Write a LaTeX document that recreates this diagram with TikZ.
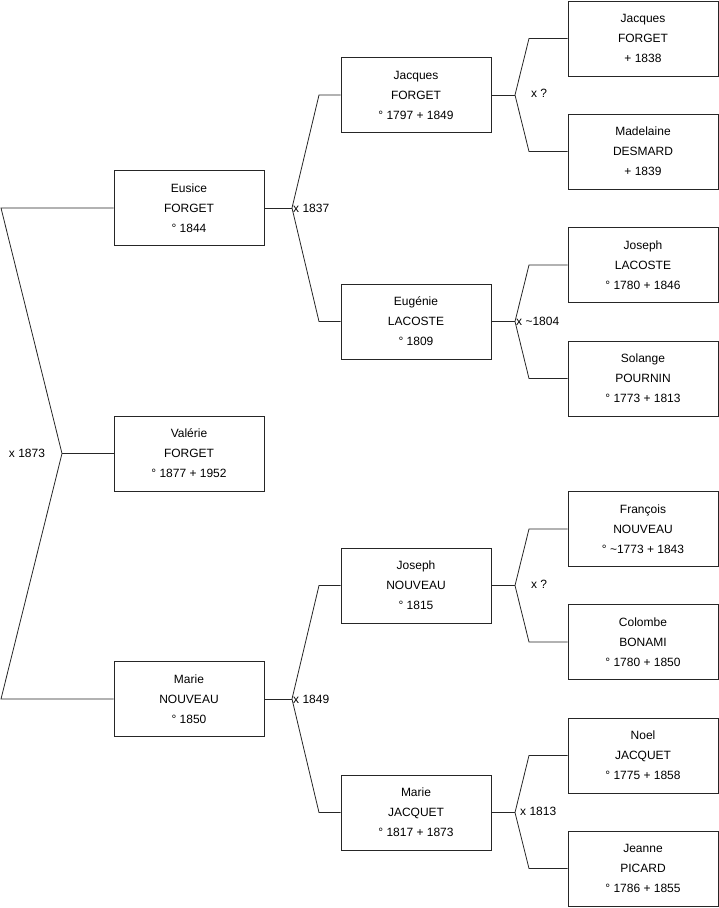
\documentclass[tikz,border=0pt]{standalone}
\usepackage{fontspec}
\setmainfont{Liberation Sans}
\usetikzlibrary{positioning}
\tikzset{
  person/.style={draw=black!85, line width=0.8pt, minimum width=150pt, minimum height=75pt,
    inner sep=0pt, align=center, font=\fontsize{12}{20}\selectfont},
  union/.style={inner sep=1pt, font=\fontsize{12}{14}\selectfont},
  link/.style={draw=black!85, line width=0.8pt}
}
\begin{document}
\begin{tikzpicture}[x=1pt,y=-1pt]
    \useasboundingbox (0,0) rectangle (719,908);
    % persons
    \node[person] (valerie)   at (189,453.5) {Valérie\\FORGET\\° 1877 + 1952};
    \node[person] (eusice)    at (189,208)   {Eusice\\FORGET\\° 1844};
    \node[person] (marieN)    at (189,699)   {Marie\\NOUVEAU\\° 1850};
    \node[person] (jacquesF)  at (416,95)    {Jacques\\FORGET\\° 1797 + 1849};
    \node[person] (eugenie)   at (416,321.5) {Eugénie\\LACOSTE\\° 1809};
    \node[person] (josephN)   at (416,585.5) {Joseph\\NOUVEAU\\° 1815};
    \node[person] (marieJ)    at (416,812.5) {Marie\\JACQUET\\° 1817 + 1873};
    \node[person] (jacquesF0) at (643,38.5)  {Jacques\\FORGET\\+ 1838};
    \node[person] (madelaine) at (643,151.5) {Madelaine\\DESMARD\\+ 1839};
    \node[person] (josephL)   at (643,265)   {Joseph\\LACOSTE\\° 1780 + 1846};
    \node[person] (solange)   at (643,378.5) {Solange\\POURNIN\\° 1773 + 1813};
    \node[person] (francois)  at (643,529)   {François\\NOUVEAU\\° \textasciitilde1773 + 1843};
    \node[person] (colombe)   at (643,642)   {Colombe\\BONAMI\\° 1780 + 1850};
    \node[person] (noel)      at (643,755.5) {Noel\\JACQUET\\° 1775 + 1858};
    \node[person] (jeanne)    at (643,868.5) {Jeanne\\PICARD\\° 1786 + 1855};

    % unions
    \coordinate (u0) at (62,453.5);
    \coordinate (u0t) at (1,208);
    \coordinate (u0b) at (1,699);
    \draw[link] (valerie.west) -- (u0);
    \draw[link] (eusice.west) -- (u0t) -- (u0) -- (u0b) -- (marieN.west);
    \node[union] (m0) at (27,453.5) {x 1873};

    \coordinate (u1) at (292,208);
    \coordinate (u1t) at (319,95);
    \coordinate (u1b) at (319,321.5);
    \draw[link] (eusice.east) -- (u1);
    \draw[link] (jacquesF.west) -- (u1t) -- (u1) -- (u1b) -- (eugenie.west);
    \node[union, anchor=west] (m1) at (u1) {x 1837};

    \coordinate (u2) at (292,699);
    \coordinate (u2t) at (319,585.5);
    \coordinate (u2b) at (319,812.5);
    \draw[link] (marieN.east) -- (u2);
    \draw[link] (josephN.west) -- (u2t) -- (u2) -- (u2b) -- (marieJ.west);
    \node[union, anchor=west] (m2) at (u2) {x 1849};

    \coordinate (u3) at (515,95);
    \coordinate (u3t) at (529,38.5);
    \coordinate (u3b) at (529,151.5);
    \draw[link] (jacquesF.east) -- (u3);
    \draw[link] (jacquesF0.west) -- (u3t) -- (u3) -- (u3b) -- (madelaine.west);
    \node[union] (m3) at (539,93) {x ?};

    \coordinate (u4) at (515,321.5);
    \coordinate (u4t) at (529,265);
    \coordinate (u4b) at (529,378.5);
    \draw[link] (eugenie.east) -- (u4);
    \draw[link] (josephL.west) -- (u4t) -- (u4) -- (u4b) -- (solange.west);
    \node[union, anchor=west] (m4) at (u4) {x \textasciitilde1804};

    \coordinate (u5) at (515,585.5);
    \coordinate (u5t) at (529,529);
    \coordinate (u5b) at (529,642);
    \draw[link] (josephN.east) -- (u5);
    \draw[link] (francois.west) -- (u5t) -- (u5) -- (u5b) -- (colombe.west);
    \node[union] (m5) at (539,584) {x ?};

    \coordinate (u6) at (515,812.5);
    \coordinate (u6t) at (529,755.5);
    \coordinate (u6b) at (529,868.5);
    \draw[link] (marieJ.east) -- (u6);
    \draw[link] (noel.west) -- (u6t) -- (u6) -- (u6b) -- (jeanne.west);
    \node[union, anchor=west] (m6) at (519,811) {x 1813};
\end{tikzpicture}
\end{document}
